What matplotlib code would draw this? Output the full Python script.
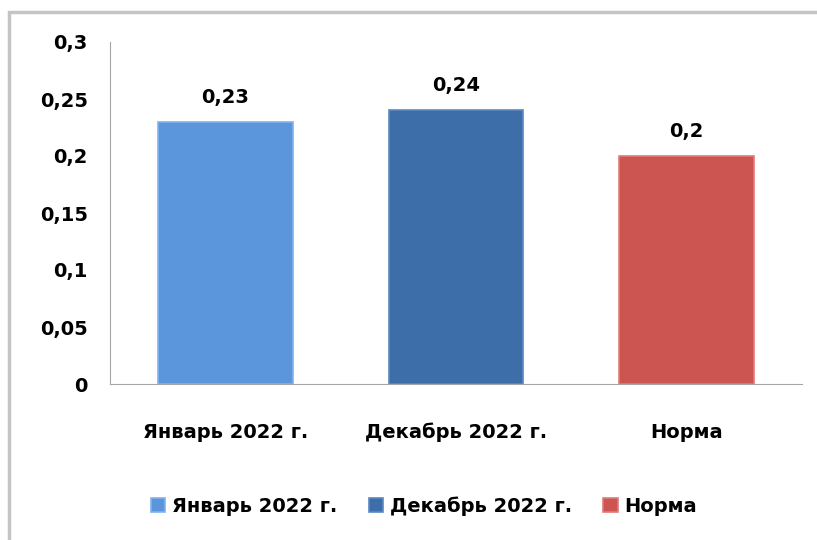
import matplotlib
matplotlib.use("Agg")
import matplotlib.pyplot as plt
from matplotlib.patches import Rectangle
from matplotlib.ticker import FuncFormatter

CATEGORIES = ["Январь 2022 г.", "Декабрь 2022 г.", "Норма"]
VALUES = [0.23, 0.24, 0.2]
VALUE_LABELS = ["0,23", "0,24", "0,2"]
COLORS = ["#5b96dc", "#3e6ea9", "#cc5451"]
Y_TICKS = [0, 0.05, 0.1, 0.15, 0.2, 0.25, 0.3]

plt.rcParams['font.family'] = ['DejaVu Sans']
plt.rcParams['font.weight'] = 'bold'


def comma_fmt(v, pos):
    if abs(v) < 1e-9:
        return "0"
    return f"{v:g}".replace('.', ',')


def main():
    fig = plt.figure(figsize=(8.17, 5.40), dpi=100)
    # outer chart frame
    fig.patches.append(Rectangle((9 / 817, -0.05), 1.2, 1 - 12 / 540 + 0.05,
                                 transform=fig.transFigure, fill=False,
                                 edgecolor='#c4c4c4', lw=2.5))
    ax = fig.add_axes([110 / 817, 1 - 384 / 540, 692 / 817, 342 / 540])

    x = range(len(CATEGORIES))
    bars = ax.bar(x, VALUES, width=0.585, color=COLORS,
                  edgecolor=['#80b3ef', '#5b89c1', '#e27b78'], linewidth=1.2,
                  label=CATEGORIES, zorder=3)

    for b, lab in zip(bars, VALUE_LABELS):
        ax.annotate(lab, (b.get_x() + b.get_width() / 2, b.get_height()),
                    xytext=(0, 11), textcoords='offset points',
                    ha='center', va='bottom', fontsize=14, fontweight='bold')

    ax.set_xlim(-0.5, 2.5)
    ax.set_ylim(0, 0.3)
    ax.set_yticks(Y_TICKS)
    ax.yaxis.set_major_formatter(FuncFormatter(comma_fmt))
    ax.set_xticks(list(x))
    ax.set_xticklabels(CATEGORIES)
    ax.tick_params(axis='y', length=0, pad=16, labelsize=14)
    ax.tick_params(axis='x', length=0, pad=28, labelsize=14)

    for side in ['top', 'right']:
        ax.spines[side].set_visible(False)
    ax.spines['left'].set_color('#a6a6a6')
    ax.spines['bottom'].set_color('#a6a6a6')

    ax.legend(handles=bars, labels=CATEGORIES, loc='center',
              bbox_to_anchor=(424 / 817, 1 - 506 / 540),
              bbox_transform=fig.transFigure, ncol=3, frameon=False,
              handlelength=0.75, handleheight=0.75,
              handletextpad=0.35, columnspacing=1.6,
              prop={'weight': 'bold', 'size': 14})

    fig.savefig("out.png", dpi=100)


if __name__ == '__main__':
    main()
